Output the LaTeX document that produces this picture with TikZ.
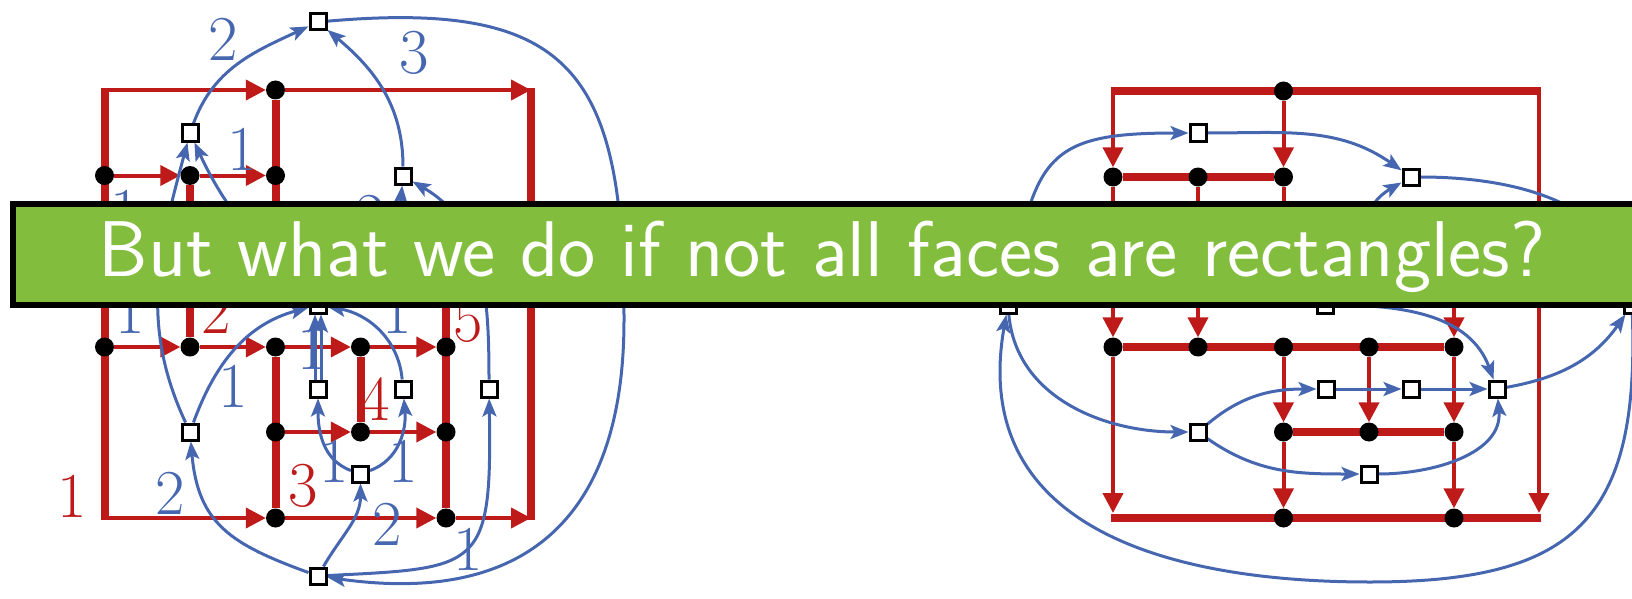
\documentclass[tikz,border=0pt]{standalone}
\usepackage{fontspec}
\usetikzlibrary{arrows.meta}
\definecolor{myred}{RGB}{190,26,26}
\definecolor{myblue}{RGB}{70,103,176}
\definecolor{mygreen}{RGB}{131,189,61}
\pgfdeclarelayer{bg}
\pgfdeclarelayer{fg}
\pgfsetlayers{bg,main,fg}
\begin{document}
\begin{tikzpicture}[x=1pt,y=-1pt,
  vx/.style={circle,fill=black,inner sep=0pt,minimum size=19pt},
  sq/.style={rectangle,draw=black,fill=white,line width=3pt,inner sep=0pt,minimum size=16pt},
  rthick/.style={myred,line width=8pt},
  rthin/.style={myred,line width=4pt},
  rarr/.style={myred,line width=4pt,-{Triangle[length=20pt,width=20pt]}},
  be/.style={myblue,line width=3pt,-{Stealth[length=18pt,width=14pt,inset=4pt]}},
  bl/.style={myblue,font=\fontsize{64}{64}\selectfont,inner sep=0pt},
  rl/.style={myred,font=\fontsize{64}{64}\selectfont,inner sep=0pt},
]
\useasboundingbox (0,0) rectangle (1632,599);

% ---------------- left graph: vertices ----------------
\node[vx] (L1) at (275.5,90) {};
\node[vx] (L2) at (104.5,175.5) {};
\node[vx] (L3) at (190,175.5) {};
\node[vx] (L4) at (275.5,175.5) {};
\node[vx] (L5) at (104.5,347) {};
\node[vx] (L6) at (190,347) {};
\node[vx] (L7) at (275.5,347) {};
\node[vx] (L8) at (360.5,347) {};
\node[vx] (L9) at (446,347) {};
\node[vx] (L10) at (275.5,432) {};
\node[vx] (L11) at (360.5,432) {};
\node[vx] (L12) at (446,432) {};
\node[vx] (L13) at (275.5,518) {};
\node[vx] (L14) at (446,518) {};
\coordinate (LTL) at (104.5,90);
\coordinate (LTR) at (531,90);
\coordinate (LBL) at (104.5,518);
\coordinate (LBR) at (531,518);
\coordinate (LTLt) at (104.5,88);
\coordinate (LBLb) at (104.5,520);
\coordinate (LTRt) at (531,88);
\coordinate (LBRb) at (531,520);
\coordinate (LH1) at (275.5,255);
\coordinate (LH2) at (446,255);

% left dual squares
\node[sq] (T) at (318,22) {};
\node[sq] (A) at (190,133) {};
\node[sq] (B) at (403,176) {};
\node[sq] (M) at (318,305) {};
\node[sq] (C) at (190,432) {};
\node[sq] (D) at (318,389) {};
\node[sq] (E) at (403,389) {};
\node[sq] (G) at (489,389) {};
\node[sq] (F) at (360.5,474) {};
\node[sq] (S) at (318,576) {};
\coordinate (tr) at (624,320);

% ---------------- right graph: vertices ----------------
\node[vx] (R1) at (1283.5,91) {};
\node[vx] (R2) at (1113,177) {};
\node[vx] (R3) at (1198,177) {};
\node[vx] (R4) at (1283.5,177) {};
\node[vx] (R5) at (1113,347) {};
\node[vx] (R6) at (1198,347) {};
\node[vx] (R7) at (1283.5,347) {};
\node[vx] (R8) at (1369,347) {};
\node[vx] (R9) at (1454,347) {};
\node[vx] (R10) at (1283.5,432) {};
\node[vx] (R11) at (1369,432) {};
\node[vx] (R12) at (1454,432) {};
\node[vx] (R13) at (1283.5,518) {};
\node[vx] (R14) at (1454,518) {};
\coordinate (RTL) at (1113,91);
\coordinate (RTR) at (1539,91);
\coordinate (RTLo) at (1111,91);
\coordinate (RTRo) at (1541,91);
\coordinate (RBLo) at (1111,518);
\coordinate (RBRo) at (1541,518);
\coordinate (RBLa) at (1113,513);
\coordinate (RBRa) at (1539,513);
\coordinate (RH1) at (1283.5,255);
\coordinate (RH2) at (1454,255);

% right dual squares
\node[sq] (q1) at (1198,133) {};
\node[sq] (q2) at (1411,177) {};
\node[sq] (q3) at (1008,305) {};
\node[sq] (q4) at (1325,305) {};
\node[sq] (q5) at (1632,305) {};
\node[sq] (q6) at (1198,432) {};
\node[sq] (q7) at (1326,389) {};
\node[sq] (q8) at (1411,389) {};
\node[sq] (q9) at (1497,389) {};
\node[sq] (q10) at (1369,474) {};
\coordinate (rb) at (1370,582);

\begin{pgfonlayer}{bg}
% left red
\draw[rthick] (LTLt) -- (LBLb);
\draw[rthick] (LTRt) -- (LBRb);
\draw[rthick] (L1) -- (LH1);
\draw[rthick] (L3) -- (L6);
\draw[rthick] (L7) -- (L13);
\draw[rthick] (L8) -- (L11);
\draw[rthick] (LH2) -- (L14);
\draw[rarr] (LTL) -- (L1);
\draw[rarr] (L1) -- (LTR);
\draw[rarr] (L2) -- (L3);
\draw[rarr] (L3) -- (L4);
\draw[rarr] (L5) -- (L6);
\draw[rarr] (L6) -- (L7);
\draw[rarr] (L7) -- (L8);
\draw[rarr] (L8) -- (L9);
\draw[rarr] (L10) -- (L11);
\draw[rarr] (L11) -- (L12);
\draw[rarr] (LBL) -- (L13);
\draw[rarr] (L13) -- (L14);
\draw[rarr] (L14) -- (LBR);

% right red
\draw[rthick] (RTLo) -- (RTRo);
\draw[rthick] (R2) -- (R4);
\draw[rthick] (R5) -- (R9);
\draw[rthick] (R10) -- (R12);
\draw[rthick] (RBLo) -- (RBRo);
\draw[rarr] (RTL) -- (R2);
\draw[rarr] (R1) -- (R4);
\draw[rarr] (R2) -- (R5);
\draw[rarr] (R3) -- (R6);
\draw[rarr] (R5) -- (RBLa);
\draw[rarr] (RTR) -- (RBRa);
\draw[rthin] (R4) -- (RH1);
\draw[rarr] (RH2) -- (R9);
\draw[rarr] (R7) -- (R10);
\draw[rarr] (R8) -- (R11);
\draw[rarr] (R9) -- (R12);
\draw[rarr] (R10) -- (R13);
\draw[rarr] (R12) -- (R14);

% left blue
\draw[be] (A) to[out=70,in=205] (T);
\draw[be] (B) to[out=90,in=-40] (T);
\draw[be] (T) to[out=5,in=90,looseness=1.5] (tr) to[out=-90,in=-8,looseness=1.3] (S);
\draw[be] (C) to[out=115,in=-105] (A);
\draw[be] (M) to[out=135,in=-65] (A);
\draw[be] (M) to[out=70,in=-95] (B);
\draw[be] (G) to[out=90,in=-30] (B);
\draw[be] (C) to[out=70,in=195] (M);
\draw[be] ([xshift=-3pt]D.north) -- ([xshift=-3pt]M.south);
\draw[be] ([xshift=3pt]D.north) -- ([xshift=3pt]M.south);
\draw[be] (E) to[out=95,in=-10] (M);
\draw[be] (F) to[out=160,in=-90] (D);
\draw[be] (F) to[out=20,in=-85] (E);
\draw[be] (S) to[out=60,in=-90] (F);
\draw[be] (S) to[out=160,in=-85,looseness=1.2] (C);
\draw[be] (S) .. controls (480,568) and (492,570) .. (G);

% right blue
\draw[be] (q3) to[out=80,in=180,looseness=1.5] (q1);
\draw[be] (q1) to[out=0,in=145] (q2);
\draw[be] (q4) to[out=55,in=210] (q2);
\draw[be] (q2) to[out=0,in=100] (q5);
\draw[be] (q3) to[out=-85,in=180] (q6);
\draw[be] (q6) to[out=40,in=180] (q7);
\draw[be] (q7) -- (q8);
\draw[be] (q8) -- (q9);
\draw[be] (q6) to[out=-35,in=180] (q10);
\draw[be] (q10) to[out=0,in=-85] (q9);
\draw[be] (q4) to[out=0,in=110] (q9);
\draw[be] (q9) to[out=10,in=-125] (q5);
\draw[be] (q5) to[out=-88,in=0,looseness=1.4] (rb) to[out=180,in=-100,looseness=1.2] (q3);
\end{pgfonlayer}

% labels
\node[bl] (l1) at (223,39) {2};
\node[bl] (l2) at (414,53) {3};
\node[bl] (l3) at (242,149) {1};
\node[bl] (l4) at (125,211) {1};
\node[bl] (l5) at (370,216) {2};
\node[bl] (l6) at (130,312) {1};
\node[rl] (l7) at (216,312) {2};
\node[bl] (l8) at (397,312) {1};
\node[rl] (l9) at (468,321) {5};
\node[bl] (l10) at (312,348) {1};
\node[bl] (l11) at (233,386) {1};
\node[rl] (l12) at (375,399) {4};
\node[bl] (l13) at (334,461) {1};
\node[bl] (l14) at (403,461) {1};
\node[rl] (l15) at (303,486) {3};
\node[rl] (l16) at (72,496) {1};
\node[bl] (l17) at (170,493) {2};
\node[bl] (l18) at (387,524) {2};
\node[bl] (l19) at (468,549) {1};

% banner
\begin{pgfonlayer}{fg}
\draw[fill=mygreen,line width=6pt] (13,204) rectangle (1680,305);
\node[text=white,font=\sffamily\fontsize{79}{79}\selectfont,inner sep=0pt,anchor=base] (btext) at (822,276) {But what we do if not all faces are rectangles?};
\end{pgfonlayer}
\end{tikzpicture}
\end{document}
